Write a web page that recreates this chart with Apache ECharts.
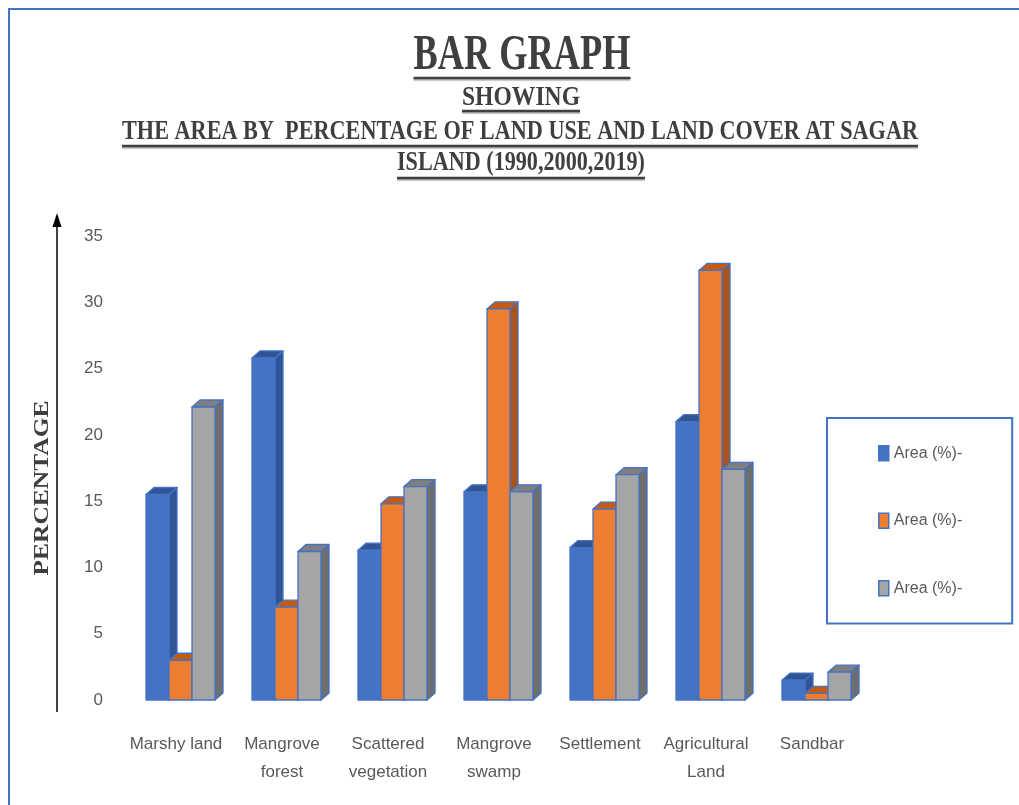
<!DOCTYPE html>
<html>
<head>
<meta charset="utf-8">
<script src="https://cdn.jsdelivr.net/npm/echarts@6/dist/echarts.min.js"></script>
<style>
  html, body { margin: 0; padding: 0; background: #fff; }
  #main { width: 1019px; height: 805px; }
</style>
</head>
<body>
<div id="main"></div>
<script>
// data
var categories = ['Marshy land', 'Mangrove\nforest', 'Scattered\nvegetation', 'Mangrove\nswamp', 'Settlement', 'Agricultural\nLand', 'Sandbar'];
var area1990 = [15.5, 25.8, 11.3, 15.7, 11.5, 21.0, 1.5];
var area2000 = [3.0, 7.0, 14.8, 29.5, 14.4, 32.4, 0.5];
var area2019 = [22.1, 11.2, 16.1, 15.7, 17.0, 17.4, 2.1];
var seriesNames = ['Area (%)- 1990', 'Area (%)- 2000', 'Area (%)- 2019'];
var yTicks = [0, 5, 10, 15, 20, 25, 30, 35];

var faceColors = ['#4472C4', '#ED7D31', '#A5A5A5'];
var sideColors = ['#2F5597', '#A9541D', '#6E6E6E'];
var topColors = ['#2F5597', '#C55A11', '#7F7F7F'];
var edge = '#4472C4';
var narrow = '"Liberation Sans Narrow", "Liberation Sans", sans-serif';
var serif = '"Liberation Serif", "DejaVu Serif", serif';

var chart = echarts.init(document.getElementById('main'));

// measure text so condensed titles fit the width seen in the picture
var measureCtx = document.createElement('canvas').getContext('2d');
function textWidth(str, font) {
    measureCtx.font = font;
    return measureCtx.measureText(str).width;
}

function titleText(str, cx, midY, size, targetW, underlineY) {
    var font = 'bold ' + size + 'px ' + serif;
    var sx = targetW / textWidth(str, font);
    var items = [{
        type: 'text',
        x: cx,
        y: midY,
        scaleX: sx,
        style: {
            text: str,
            font: font,
            fill: '#3F3F3F',
            align: 'center',
            verticalAlign: 'middle',
            shadowColor: 'rgba(0,0,0,0.3)',
            shadowOffsetX: 1.5,
            shadowOffsetY: 1.5,
            shadowBlur: 2
        }
    }];
    if (underlineY != null) {
        items.push({
            type: 'line',
            shape: { x1: cx - targetW / 2, y1: underlineY, x2: cx + targetW / 2, y2: underlineY },
            style: { stroke: '#3F3F3F', lineWidth: 2.5, shadowColor: 'rgba(0,0,0,0.3)', shadowOffsetY: 1.5, shadowBlur: 1 }
        });
    }
    return items;
}

function makeRender(k) {
    return function (params, api) {
        var ci = api.value(0);
        var v = api.value(1);
        var top = api.coord([ci, v]);
        var base = api.coord([ci, 0]);
        var band = api.size([1, 0])[0];
        var w = band * 0.217;
        var dx = 8, dy = 7;
        var x0 = top[0] - band * 0.283 + w * k;
        var x1 = x0 + w;
        var yt = top[1], yb = base[1];
        var line = { stroke: edge, lineWidth: 1.3, lineJoin: 'round' };
        return {
            type: 'group',
            children: [
                {
                    type: 'polygon',
                    shape: { points: [[x1, yt], [x1 + dx, yt - dy], [x1 + dx, yb - dy], [x1, yb]] },
                    style: Object.assign({ fill: sideColors[k] }, line)
                },
                {
                    type: 'polygon',
                    shape: { points: [[x0, yt], [x0 + dx, yt - dy], [x1 + dx, yt - dy], [x1, yt]] },
                    style: Object.assign({ fill: topColors[k] }, line)
                },
                {
                    type: 'rect',
                    shape: { x: x0, y: yt, width: w, height: yb - yt },
                    style: Object.assign({ fill: faceColors[k] }, line)
                }
            ]
        };
    };
}

var allData = [area1990, area2000, area2019];
var series = allData.map(function (arr, k) {
    return {
        type: 'custom',
        name: seriesNames[k],
        renderItem: makeRender(k),
        clip: false,
        encode: { x: 0, y: 1 },
        itemStyle: { color: faceColors[k], borderColor: edge, borderWidth: 1.5 },
        data: arr.map(function (v, i) { return [i, v]; })
    };
});

var graphics = [
    // outer frame
    { type: 'rect', shape: { x: 9, y: 9, width: 1100, height: 900 }, style: { fill: 'none', stroke: '#4472C4', lineWidth: 2 }, silent: true }
];
graphics = graphics
    .concat(titleText('BAR GRAPH', 522, 56, 50, 217, 78))
    .concat(titleText('SHOWING', 521, 97.5, 28, 118, 111))
    .concat(titleText('THE AREA BY  PERCENTAGE OF LAND USE AND LAND COVER AT SAGAR', 520, 131.5, 28, 796, 146))
    .concat(titleText('ISLAND (1990,2000,2019)', 521, 162.5, 28, 248, 178));

// y axis title, rotated
var ytFont = 'bold 22px ' + serif;
graphics.push({
    type: 'text',
    x: 42,
    y: 488,
    rotation: Math.PI / 2,
    scaleX: 175 / textWidth('PERCENTAGE', ytFont),
    style: { text: 'PERCENTAGE', font: ytFont, fill: '#3F3F3F', align: 'center', verticalAlign: 'middle' }
});
// arrow axis line
graphics.push({ type: 'line', shape: { x1: 57, y1: 712, x2: 57, y2: 222 }, style: { stroke: '#000', lineWidth: 1.5 } });
graphics.push({ type: 'polygon', shape: { points: [[57, 213], [52.5, 227], [61.5, 227]] }, style: { fill: '#000' } });

var option = {
    backgroundColor: '#fff',
    animation: false,
    grid: { left: 123, right: 154, top: 236, bottom: 105 },
    legend: {
        orient: 'vertical',
        left: 827,
        top: 418,
        padding: [27, 50, 27, 51],
        itemGap: 51,
        itemWidth: 10,
        itemHeight: 15,
        icon: 'rect',
        borderColor: '#4472C4',
        borderWidth: 2,
        backgroundColor: '#fff',
        formatter: function () { return 'Area (%)-'; },
        textStyle: { color: '#595959', fontSize: 16, fontFamily: narrow },
        data: seriesNames.map(function (n, k) {
            return { name: n, itemStyle: { color: faceColors[k], borderColor: edge, borderWidth: 1.5 } };
        })
    },
    xAxis: {
        type: 'category',
        data: categories,
        axisLine: { show: false },
        axisTick: { show: false },
        axisLabel: { color: '#595959', fontSize: 17, fontFamily: narrow, lineHeight: 28, margin: 30, interval: 0 }
    },
    yAxis: {
        type: 'value',
        min: yTicks[0],
        max: yTicks[yTicks.length - 1],
        interval: 5,
        splitLine: { show: false },
        axisLine: { show: false },
        axisTick: { show: false },
        axisLabel: { color: '#595959', fontSize: 17, fontFamily: narrow, margin: 20 }
    },
    graphic: graphics,
    series: series
};

chart.setOption(option);
</script>
</body>
</html>
